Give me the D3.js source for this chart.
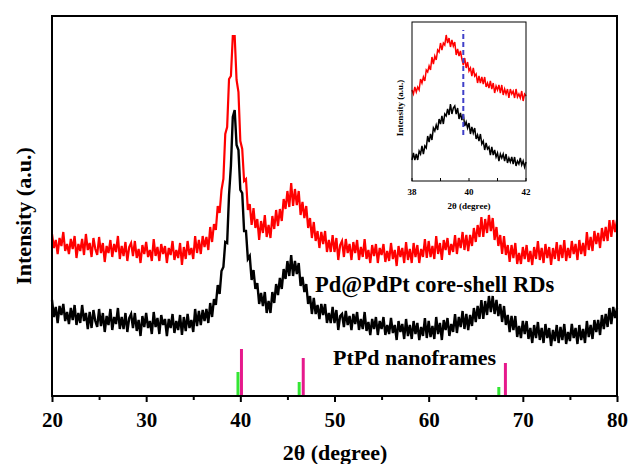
<!DOCTYPE html>
<html>
<head>
<meta charset="utf-8">
<script src="https://cdn.jsdelivr.net/npm/d3@7"></script>
<style>
  body { margin: 0; background: #fff; }
  svg text { font-family: "Liberation Serif", "Times New Roman", serif; font-weight: bold; fill: #000; }
</style>
</head>
<body>
<svg id="chart" width="630" height="464"></svg>
<script>
// 2theta grid of the main scans
var thetaStart = 20, thetaStep = 0.2;

// Pd@PdPt core-shell RDs (red), 20..80 deg, every 0.2 deg
var coreShell = [
  162,148,156,142,158,150,164,145,152,142,
  157,147,160,138,152,145,157,141,162,146,
  153,139,158,147,141,159,143,153,134,150,
  143,156,139,152,144,160,137,150,140,154,
  135,149,153,140,155,138,147,133,151,142,
  154,139,146,135,157,140,149,135,152,142,
  150,133,148,141,155,136,146,138,153,131,
  149,137,155,141,148,137,160,143,156,142,
  160,149,159,146,169,154,172,166,190,183,
  206,217,262,269,317,320,360,360,316,304,
  255,247,215,217,186,192,171,188,168,177,
  156,175,163,181,159,171,158,180,167,186,
  170,187,175,197,187,205,189,213,190,207,
  191,205,181,194,178,190,168,178,158,174,
  155,165,148,164,152,165,144,156,144,161,
  144,158,136,151,155,139,157,143,152,136,
  154,143,156,136,149,139,157,137,146,133,
  151,140,152,133,148,141,152,134,145,135,
  153,137,146,130,150,139,148,133,154,136,
  147,133,153,139,151,133,147,139,157,138,
  155,139,150,137,160,142,153,136,156,146,
  158,141,152,144,161,142,158,148,164,146,
  161,145,161,150,168,154,171,159,179,159,
  177,163,181,165,178,156,169,150,161,142,
  160,141,151,134,151,138,153,132,143,132,
  149,137,151,134,145,131,149,137,155,136,
  148,133,152,138,149,131,148,137,154,135,
  151,138,156,135,148,138,155,142,152,136,
  156,142,153,140,164,146,159,145,165,152,
  163,148,168,155,169,155,176,159,176,164,
  176
];

// PtPd nanoframes (black), 20..80 deg, every 0.2 deg
var nanoframes = [
  96,79,89,73,90,81,92,75,84,72,
  88,76,91,71,83,73,91,75,83,67,
  84,68,86,75,69,87,70,83,64,80,
  71,87,66,79,72,88,67,79,67,83,
  64,78,82,68,83,65,76,60,80,69,
  83,68,75,62,84,69,78,62,81,71,
  77,60,77,68,82,63,75,66,81,61,
  79,65,82,68,76,64,87,70,85,71,
  86,75,87,73,93,79,97,91,111,102,
  125,129,154,153,201,230,279,286,251,246,
  206,203,165,165,137,140,116,126,107,113,
  92,103,90,104,83,95,83,104,93,112,
  101,118,107,127,117,135,120,141,120,135,
  122,133,110,119,104,112,92,100,82,98,
  82,91,77,92,81,92,73,83,73,89,
  73,86,66,80,82,69,85,71,80,66,
  82,72,84,66,77,67,84,65,74,61,
  77,67,79,61,75,67,79,61,71,62,
  78,63,71,56,75,64,72,57,77,60,
  71,57,75,62,73,56,69,60,78,58,
  75,59,70,57,79,62,73,56,76,66,
  78,60,72,64,82,63,79,69,85,67,
  82,66,81,70,88,74,90,77,96,77,
  95,81,100,84,100,82,96,80,92,74,
  90,71,81,64,80,66,80,59,70,58,
  75,62,75,57,68,53,71,58,74,56,
  68,53,72,58,68,50,66,55,71,53,
  69,56,72,52,64,55,72,58,68,52,
  71,56,67,53,75,59,71,57,76,64,
  76,61,81,67,82,69,88,72,89,78,
  88
];

// reference lines: green (Pt) and magenta (Pd)
var ptPeaks = [39.75, 46.25, 67.45];
var ptHeights = [24, 14, 9];
var pdPeaks = [40.12, 46.68, 68.15];
var pdHeights = [47, 38, 33];

var xTicks = [20, 30, 40, 50, 60, 70, 80];
var xMinorTicks = [25, 35, 45, 55, 65, 75];

// inset: zoom on 38..42 deg, every 0.05 deg
var insetStart = 38, insetStep = 0.05;
var insetCoreShell = [
  92,88,95,90,95,92,103,99,105,101,
  112,110,116,112,125,118,126,122,132,130,
  139,132,139,137,147,139,144,135,142,136,
  140,127,133,126,131,123,117,124,114,120,
  111,114,106,114,106,108,99,106,99,105,
  98,105,95,99,94,101,93,99,89,96,
  92,97,89,97,87,93,88,93,84,93,
  88,91,84,93,85,88,84,91,81,88,
  86
];
var insetNanoframes = [
  22,29,22,28,22,31,28,36,28,36,
  34,46,40,48,42,54,51,57,52,63,
  58,66,58,68,66,73,67,78,68,74,
  76,68,74,63,69,62,68,56,60,54,
  59,48,55,49,54,43,47,41,48,38,
  41,32,39,33,35,27,35,27,32,25,
  29,21,28,24,28,21,28,19,24,20,
  25,18,25,16,21,18,24,17,21,15,
  20
];
var insetTicks = [38, 39, 40, 41, 42];
var insetTickLabels = [38, 40, 42];
var dashedAt = 39.8, dashedFrom = 47, dashedTo = 152;

var svg = d3.select("#chart");

// main plot area
var x = d3.scaleLinear().domain([20, 80]).range([52, 617]);
var y = d3.scaleLinear().domain([0, 380]).range([396, 16]);

var mainLine = d3.line()
  .x(function(d, i) { return x(thetaStart + i * thetaStep); })
  .y(function(d) { return y(d); });

svg.append("path").datum(coreShell)
  .attr("d", mainLine).attr("fill", "none")
  .attr("stroke", "#ff0000").attr("stroke-width", 2.2);

svg.append("path").datum(nanoframes)
  .attr("d", mainLine).attr("fill", "none")
  .attr("stroke", "#000").attr("stroke-width", 2.4);

// sticks
svg.append("g").selectAll("line")
  .data(ptPeaks).enter().append("line")
  .attr("x1", function(d) { return x(d); })
  .attr("x2", function(d) { return x(d); })
  .attr("y1", y(0))
  .attr("y2", function(d, i) { return y(ptHeights[i]); })
  .attr("stroke", "#33e633").attr("stroke-width", 3);

svg.append("g").selectAll("line")
  .data(pdPeaks).enter().append("line")
  .attr("x1", function(d) { return x(d); })
  .attr("x2", function(d) { return x(d); })
  .attr("y1", y(0))
  .attr("y2", function(d, i) { return y(pdHeights[i]); })
  .attr("stroke", "#e6198c").attr("stroke-width", 3);

// frame
svg.append("rect")
  .attr("x", 52).attr("y", 16).attr("width", 565).attr("height", 380)
  .attr("fill", "none").attr("stroke", "#000").attr("stroke-width", 2);

var xAxis = svg.append("g").attr("transform", "translate(0,396)")
  .call(d3.axisBottom(x).tickValues(xTicks).tickSize(6).tickPadding(10).tickFormat(d3.format("d")));
xAxis.select(".domain").remove();
xAxis.selectAll("line").attr("stroke-width", 2);
xAxis.selectAll("text").style("font-size", "21px").attr("font-family", null);

var xMinor = svg.append("g").attr("transform", "translate(0,396)")
  .call(d3.axisBottom(x).tickValues(xMinorTicks).tickSize(4).tickFormat(""));
xMinor.select(".domain").remove();
xMinor.selectAll("line").attr("stroke-width", 2);

svg.append("text")
  .attr("x", 335).attr("y", 460)
  .attr("text-anchor", "middle")
  .style("font-size", "22px")
  .text("2θ (degree)");

svg.append("text")
  .attr("transform", "translate(31,216) rotate(-90)")
  .attr("text-anchor", "middle")
  .style("font-size", "22px")
  .text("Intensity (a.u.)");

svg.append("text")
  .attr("x", 315).attr("y", 292)
  .style("font-size", "22.5px")
  .text("Pd@PdPt core-shell RDs");

svg.append("text")
  .attr("x", 333).attr("y", 365)
  .style("font-size", "22px")
  .text("PtPd nanoframes");

// inset
var ix = d3.scaleLinear().domain([38, 42]).range([412, 526]);
var iy = d3.scaleLinear().domain([1, 160]).range([181, 22]);

var insetLine = d3.line()
  .x(function(d, i) { return ix(insetStart + i * insetStep); })
  .y(function(d) { return iy(d); });

svg.append("path").datum(insetCoreShell)
  .attr("d", insetLine).attr("fill", "none")
  .attr("stroke", "#ff0000").attr("stroke-width", 1.5);

svg.append("path").datum(insetNanoframes)
  .attr("d", insetLine).attr("fill", "none")
  .attr("stroke", "#000").attr("stroke-width", 1.5);

svg.append("line")
  .attr("x1", ix(dashedAt)).attr("x2", ix(dashedAt))
  .attr("y1", iy(dashedFrom)).attr("y2", iy(dashedTo))
  .attr("stroke", "#4040c8").attr("stroke-width", 2)
  .attr("stroke-dasharray", "5,3");

svg.append("rect")
  .attr("x", 412).attr("y", 22).attr("width", 114).attr("height", 159)
  .attr("fill", "none").attr("stroke", "#000").attr("stroke-width", 1);

svg.append("g").selectAll("line")
  .data(insetTicks).enter().append("line")
  .attr("x1", function(d) { return ix(d); })
  .attr("x2", function(d) { return ix(d); })
  .attr("y1", 181).attr("y2", 178)
  .attr("stroke", "#000").attr("stroke-width", 1);

svg.append("g").selectAll("text")
  .data(insetTickLabels).enter().append("text")
  .attr("x", function(d) { return ix(d); })
  .attr("y", 195)
  .attr("text-anchor", "middle")
  .style("font-size", "9px")
  .text(function(d) { return d; });

svg.append("text")
  .attr("x", 469).attr("y", 209)
  .attr("text-anchor", "middle")
  .style("font-size", "9px")
  .text("2θ (degree)");

svg.append("text")
  .attr("transform", "translate(403,108) rotate(-90)")
  .attr("text-anchor", "middle")
  .style("font-size", "9px")
  .text("Intensity (a.u.)");
</script>
</body>
</html>
